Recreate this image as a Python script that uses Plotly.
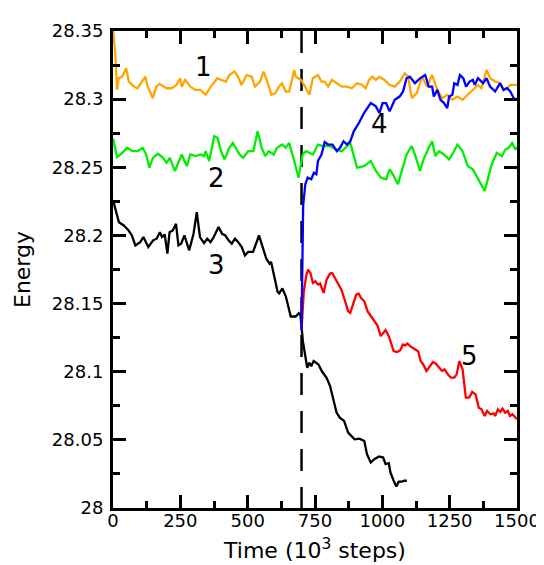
import plotly.graph_objects as go

# ---- data ----
t1 = [0, 9, 15, 21, 34, 49, 59, 78, 91, 104, 120, 129, 148, 161, 173, 198, 217, 236, 249, 255, 268, 287, 306, 325,
      344, 363, 388, 401, 420, 432, 451, 464, 477, 496, 515, 527, 546, 559, 571, 588, 603, 616, 628, 641, 654, 673,
      679, 698, 710, 729, 742, 761, 774, 786, 799, 812, 831, 850, 869, 887, 906, 925, 938, 951, 963, 976, 989, 1008,
      1027, 1046, 1065, 1083, 1096, 1109, 1128, 1147, 1166, 1185, 1204, 1223, 1241, 1260, 1279, 1298, 1317, 1336,
      1355, 1368, 1387, 1400, 1419, 1437, 1450, 1463, 1475, 1488, 1500]
e1 = [28.352, 28.3311, 28.3068, 28.3153, 28.3165, 28.3226, 28.3129, 28.3092, 28.308, 28.3117, 28.3165, 28.3092,
      28.3007, 28.3092, 28.3112, 28.308, 28.308, 28.3104, 28.3153, 28.3092, 28.3141, 28.3092, 28.3068, 28.3068,
      28.3032, 28.3092, 28.3153, 28.3141, 28.3129, 28.3177, 28.3202, 28.3165, 28.3104, 28.3177, 28.3165, 28.3092,
      28.3129, 28.3202, 28.3141, 28.3032, 28.3044, 28.3092, 28.3117, 28.3056, 28.3056, 28.3214, 28.3165, 28.3141,
      28.3104, 28.3032, 28.3153, 28.3177, 28.3129, 28.3129, 28.3092, 28.3141, 28.3117, 28.3092, 28.3092, 28.308,
      28.3117, 28.3104, 28.308, 28.3141, 28.3165, 28.3141, 28.3165, 28.3141, 28.3104, 28.3092, 28.3129, 28.319,
      28.3165, 28.3007, 28.3044, 28.3165, 28.3092, 28.3177, 28.3068, 28.3007, 28.3032, 28.2995, 28.3019, 28.2995,
      28.3032, 28.3068, 28.3104, 28.308, 28.3214, 28.3153, 28.3129, 28.3117, 28.3068, 28.308, 28.3104, 28.3104,
      28.3104]

t2 = [0, 15, 34, 53, 72, 91, 110, 123, 135, 148, 167, 186, 199, 211, 230, 249, 255, 274, 287, 306, 325, 338, 344,
      357, 376, 388, 401, 414, 432, 445, 458, 470, 483, 502, 521, 537, 552, 565, 578, 597, 609, 628, 641, 654, 673,
      689, 704, 717, 742, 761, 780, 806, 830, 850, 869, 881, 906, 932, 957, 976, 995, 1014, 1027, 1039, 1058, 1077,
      1090, 1109, 1121, 1140, 1153, 1172, 1185, 1197, 1210, 1229, 1248, 1260, 1279, 1298, 1317, 1336, 1355, 1380,
      1406, 1425, 1444, 1457, 1469, 1482, 1494, 1500]
e2 = [28.2711, 28.2575, 28.2606, 28.2643, 28.2618, 28.2618, 28.2643, 28.2594, 28.2497, 28.2569, 28.2599, 28.2569,
      28.2533, 28.2569, 28.2473, 28.2569, 28.2594, 28.2509, 28.2594, 28.2582, 28.2594, 28.2582, 28.2618, 28.2546,
      28.2728, 28.2716, 28.2618, 28.2558, 28.2643, 28.2679, 28.263, 28.2594, 28.2569, 28.2618, 28.2618, 28.2764,
      28.2643, 28.2582, 28.2618, 28.2594, 28.2643, 28.2667, 28.2643, 28.2679, 28.2546, 28.2424, 28.2594, 28.2618,
      28.2594, 28.2667, 28.2655, 28.2655, 28.263, 28.2618, 28.2655, 28.2679, 28.2497, 28.2509, 28.2546, 28.2473,
      28.2424, 28.2412, 28.2485, 28.2448, 28.2376, 28.2497, 28.2594, 28.2655, 28.2594, 28.2473, 28.2558, 28.2643,
      28.2691, 28.2582, 28.2618, 28.2594, 28.2558, 28.2594, 28.2667, 28.2618, 28.2509, 28.2485, 28.2412, 28.2327,
      28.2521, 28.2606, 28.2582, 28.263, 28.2643, 28.2679, 28.263, 28.265]

t3 = [0, 22, 40, 58, 70, 83, 101, 113, 131, 149, 162, 174, 182, 192, 202, 210, 222, 234, 243, 253, 265, 283, 299,
      311, 323, 338, 350, 362, 374, 392, 405, 417, 429, 441, 453, 465, 478, 490, 502, 520, 542, 556, 569, 581, 587,
      599, 611, 617, 629, 642, 654, 660, 678, 690, 696, 700, 705, 712, 721, 729, 736, 745, 753, 763, 775, 793, 806,
      818, 830, 842, 858, 873, 885, 897, 915, 933, 943, 957, 970, 988, 1003, 1012, 1024, 1030, 1042, 1052, 1061,
      1073, 1081, 1091]
e3 = [28.226, 28.2097, 28.2073, 28.2036, 28.2, 28.1927, 28.1951, 28.1988, 28.1915, 28.1964, 28.1976, 28.2024,
      28.1988, 28.2007, 28.1866, 28.2024, 28.2036, 28.2085, 28.1927, 28.1939, 28.2, 28.1891, 28.2012, 28.217,
      28.1988, 28.1944, 28.1976, 28.1951, 28.1988, 28.2061, 28.2012, 28.2, 28.1964, 28.1939, 28.1976, 28.1951,
      28.1915, 28.1854, 28.1879, 28.1879, 28.2, 28.1915, 28.183, 28.1793, 28.1806, 28.1697, 28.1587, 28.1575,
      28.1611, 28.155, 28.1454, 28.1405, 28.1405, 28.143, 28.1417, 28.1305, 28.1224, 28.1139, 28.1029, 28.1066,
      28.1041, 28.1078, 28.1066, 28.1053, 28.1005, 28.0956, 28.0895, 28.0797, 28.07, 28.0663, 28.0639, 28.0553,
      28.0529, 28.0504, 28.0509, 28.0492, 28.0395, 28.0334, 28.0358, 28.0378, 28.037, 28.0322, 28.0329, 28.0261,
      28.02, 28.0158, 28.0193, 28.0193, 28.02, 28.02]

t4 = [700, 703, 706, 714, 723, 736, 746, 755, 761, 774, 786, 799, 815, 831, 843, 856, 869, 881, 894, 913, 932, 957,
      976, 989, 1001, 1014, 1027, 1046, 1064, 1077, 1090, 1102, 1121, 1140, 1159, 1172, 1185, 1191, 1204, 1216, 1229,
      1241, 1248, 1260, 1267, 1279, 1288, 1301, 1311, 1324, 1336, 1343, 1355, 1374, 1387, 1400, 1419, 1437, 1450,
      1463, 1475, 1488, 1500]
e4 = [28.1305, 28.19, 28.222, 28.2376, 28.2424, 28.2412, 28.246, 28.2448, 28.2546, 28.2594, 28.2684, 28.2667,
      28.2667, 28.2618, 28.2643, 28.2691, 28.2667, 28.2691, 28.2764, 28.2825, 28.2898, 28.2971, 28.2947, 28.2898,
      28.2971, 28.2971, 28.291, 28.2995, 28.3019, 28.3056, 28.3153, 28.3165, 28.3117, 28.3153, 28.3177, 28.3092,
      28.3092, 28.3019, 28.3068, 28.2995, 28.2971, 28.2934, 28.3019, 28.3032, 28.3117, 28.3104, 28.3177, 28.3153,
      28.3092, 28.3129, 28.3141, 28.3104, 28.3153, 28.3117, 28.3153, 28.3092, 28.3056, 28.3117, 28.3068, 28.308,
      28.3056, 28.3007, 28.2995]

t5 = [700, 708, 717, 724, 733, 742, 751, 761, 769, 782, 793, 806, 814, 824, 836, 848, 860, 873, 881, 891, 903, 912,
      921, 933, 945, 958, 970, 982, 994, 1003, 1012, 1024, 1033, 1042, 1055, 1067, 1076, 1085, 1093, 1103, 1118,
      1133, 1142, 1152, 1164, 1176, 1188, 1198, 1210, 1222, 1231, 1243, 1255, 1267, 1276, 1286, 1298, 1310, 1322,
      1334, 1346, 1358, 1368, 1380, 1389, 1401, 1413, 1419, 1429, 1438, 1446, 1456, 1466, 1474, 1483, 1493, 1500]
e5 = [28.1305, 28.1578, 28.17, 28.1749, 28.1724, 28.1651, 28.1663, 28.1639, 28.1646, 28.1578, 28.1676, 28.172,
      28.1724, 28.1688, 28.1639, 28.1602, 28.1529, 28.1444, 28.1432, 28.1493, 28.1566, 28.1573, 28.1541, 28.1517,
      28.1444, 28.1407, 28.1371, 28.1339, 28.1261, 28.1285, 28.1305, 28.1261, 28.1212, 28.1151, 28.1144, 28.1158,
      28.12, 28.1193, 28.1207, 28.1188, 28.1168, 28.1151, 28.1078, 28.1053, 28.1005, 28.1036, 28.1071, 28.1061,
      28.1029, 28.1005, 28.1017, 28.0981, 28.0956, 28.0956, 28.0981, 28.1078, 28.1017, 28.081, 28.081, 28.0851,
      28.0834, 28.0736, 28.0724, 28.0675, 28.0712, 28.0688, 28.0695, 28.0675, 28.0724, 28.0705, 28.0729, 28.07,
      28.0712, 28.0675, 28.0688, 28.0663, 28.0651]

switch_time = 700
label_text = ["1", "2", "3", "4", "5"]
label_x = [335, 383, 386, 989, 1322]
label_y = [28.3237, 28.2423, 28.1782, 28.2814, 28.1114]

x_ticks = [0, 250, 500, 750, 1000, 1250, 1500]
x_ticktext = ["0", "250", "500", "750", "1000", "1250", "1500"]
y_ticks = [28.0, 28.05, 28.1, 28.15, 28.2, 28.25, 28.3, 28.35]
y_ticktext = ["28", "28.05", "28.1", "28.15", "28.2", "28.25", "28.3", "28.35"]

FONT = "DejaVu Sans"

fig = go.Figure()
fig.add_trace(go.Scatter(x=[switch_time, switch_time], y=[28.35, 28.0], mode="lines",
                         line=dict(color="black", width=2.5, dash="22px,16px"), hoverinfo="skip"))
fig.add_trace(go.Scatter(x=t1, y=e1, mode="lines", line=dict(color="#FFA500", width=2.3)))
fig.add_trace(go.Scatter(x=t2, y=e2, mode="lines", line=dict(color="#00EE00", width=2.3)))
fig.add_trace(go.Scatter(x=t3, y=e3, mode="lines", line=dict(color="black", width=2.3)))
fig.add_trace(go.Scatter(x=t5, y=e5, mode="lines", line=dict(color="#FF0000", width=2.3)))
fig.add_trace(go.Scatter(x=t4, y=e4, mode="lines", line=dict(color="#0000FF", width=2.3)))

for txt, lx, ly in zip(label_text, label_x, label_y):
    fig.add_annotation(x=lx, y=ly, xref="x", yref="y", text=txt, showarrow=False,
                       font=dict(family=FONT, size=26, color="black"))

axis_common = dict(showgrid=False, zeroline=False, showline=True, linecolor="black", linewidth=3,
                   mirror="ticks", ticks="inside", ticklen=13, tickwidth=2.5, tickcolor="black",
                   tickfont=dict(family=FONT, size=18, color="black"))

fig.update_xaxes(range=[0, 1500], tickvals=x_ticks, ticktext=x_ticktext, ticklabelstandoff=-6,
                 minor=dict(dtick=125, tick0=0, ticks="inside", ticklen=7, tickwidth=2.5, tickcolor="black"),
                 title=dict(text="Time (10<sup>3</sup> steps)", font=dict(family=FONT, size=22, color="black"),
                            standoff=14),
                 **axis_common)
fig.update_yaxes(range=[28.0, 28.35], tickvals=y_ticks, ticktext=y_ticktext, ticklabelstandoff=3,
                 minor=dict(dtick=0.025, tick0=28.0, ticks="inside", ticklen=7, tickwidth=2.5, tickcolor="black"),
                 title=dict(text="Energy", font=dict(family=FONT, size=22, color="black"), standoff=16),
                 **axis_common)

fig.update_layout(width=544, height=565, showlegend=False, plot_bgcolor="white", paper_bgcolor="white",
                  margin=dict(l=105, r=28, t=16, b=65))

fig.write_html("out.html")
